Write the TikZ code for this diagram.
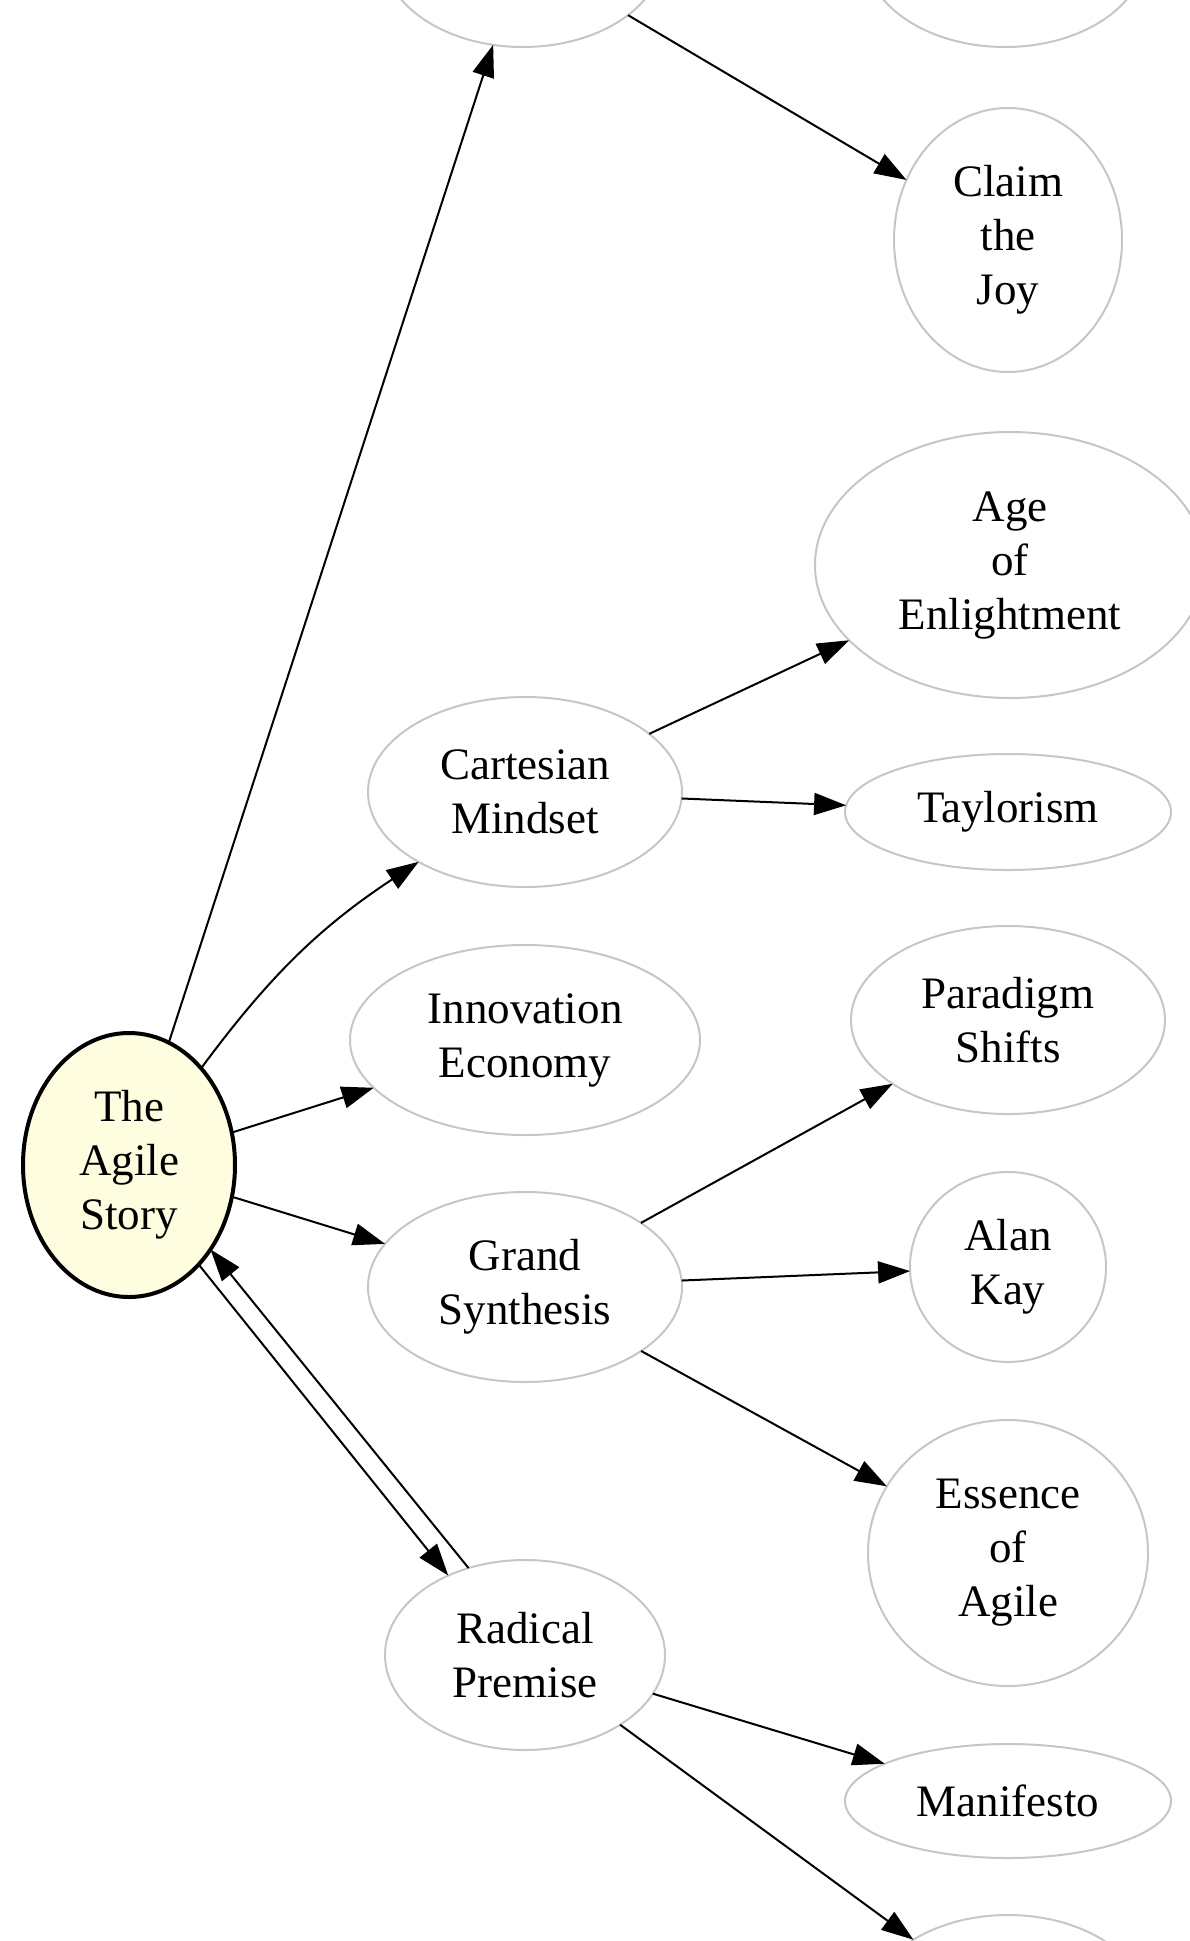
\documentclass[tikz,border=0pt]{standalone}
\usepackage{fontspec}
\setmainfont{Liberation Serif}
\usetikzlibrary{shapes.geometric,arrows.meta}
\begin{document}
\begin{tikzpicture}[x=1pt,y=-1pt,
  topic/.style={ellipse, draw=gray!45, line width=2pt, inner sep=0pt, outer sep=0pt,
    align=center, font=\fontsize{45}{54}\selectfont},
  root/.style={topic, draw=black, line width=4pt, fill={rgb,255:red,255;green,253;blue,224}},
  link/.style={-{Triangle[length=32pt,width=22pt]}, line width=2pt, black}]
\useasboundingbox (0,0) rectangle (1190,1941);
\clip (0,0) rectangle (1190,1941);

% nodes
\node[root, minimum width=212pt, minimum height=264pt] (agile) at (129,1165) {The\\Agile\\Story};
\node[topic, minimum width=280pt, minimum height=188pt] (upperleft) at (523,-47) {};
\node[topic, minimum width=280pt, minimum height=188pt] (upperright) at (1005,-47) {};
\node[topic, minimum width=228pt, minimum height=264pt] (claim) at (1008,240) {Claim\\the\\Joy};
\node[topic, minimum width=390pt, minimum height=266pt] (age) at (1010,565) {Age\\of\\Enlightment};
\node[topic, minimum width=314pt, minimum height=190pt] (cartesian) at (525,792) {Cartesian\\Mindset};
\node[topic, minimum width=326pt, minimum height=116pt] (taylor) at (1008,812) {Taylorism};
\node[topic, minimum width=350pt, minimum height=190pt] (innovation) at (525,1040) {Innovation\\Economy};
\node[topic, minimum width=314pt, minimum height=188pt] (paradigm) at (1008,1020) {Paradigm\\Shifts};
\node[topic, minimum width=314pt, minimum height=190pt] (grand) at (525,1287) {Grand\\Synthesis};
\node[topic, minimum width=196pt, minimum height=190pt] (alan) at (1008,1267) {Alan\\Kay};
\node[topic, minimum width=280pt, minimum height=266pt] (essence) at (1008,1553) {Essence\\of\\Agile};
\node[topic, minimum width=280pt, minimum height=190pt] (radical) at (525,1655) {Radical\\Premise};
\node[topic, minimum width=326pt, minimum height=114pt] (manifesto) at (1008,1801) {Manifesto};
\node[topic, minimum width=280pt, minimum height=188pt] (lower) at (1008,2009) {};

% connectors
\draw[link] (agile) -- (upperleft);
\draw[link] (upperleft) -- (claim);
\draw[link] (agile) to[bend left=10] (cartesian);
\draw[link] (cartesian) -- (age);
\draw[link] (cartesian) -- (taylor);
\draw[link] (agile) -- (innovation);
\draw[link] (agile) -- (grand);
\draw[link] (grand) -- (paradigm);
\draw[link] (grand) -- (alan);
\draw[link] (grand) -- (essence);
\draw[link] (agile.-55) -- (radical.134);
\draw[link] (radical.123) -- (agile.-46);
\draw[link] (radical) -- (manifesto);
\draw[link] (radical) -- (lower);
\end{tikzpicture}
\end{document}
